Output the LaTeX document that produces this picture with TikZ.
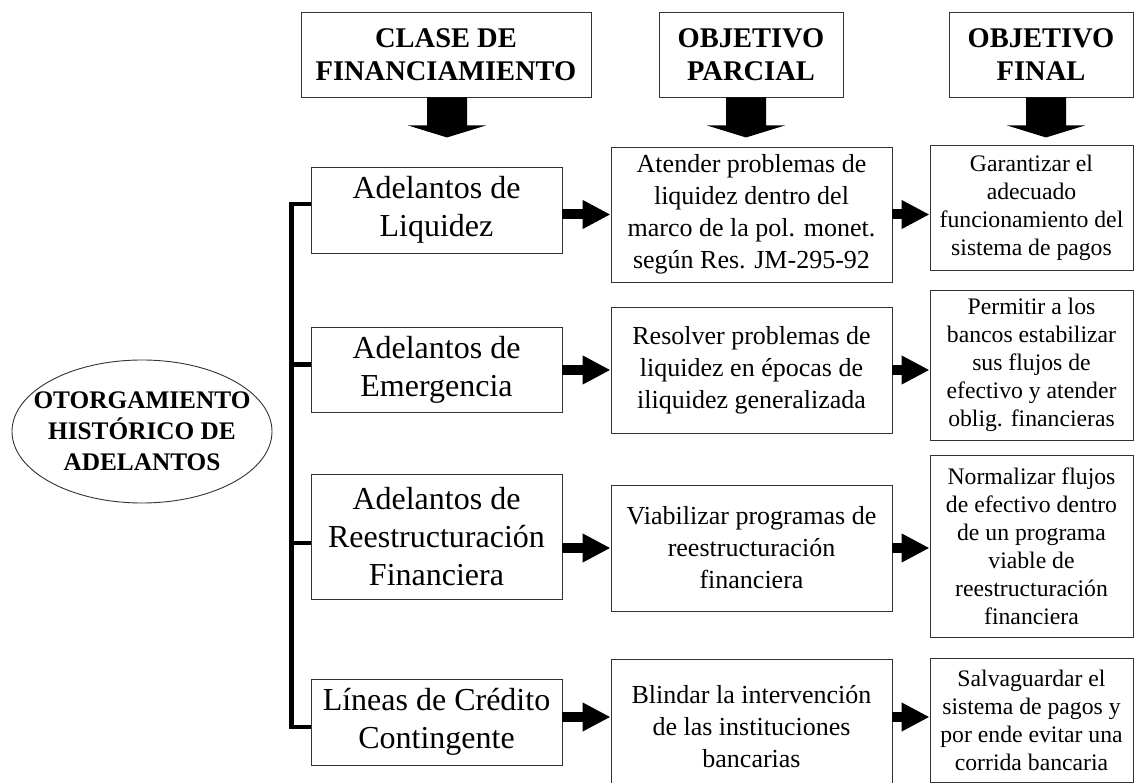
\documentclass[tikz,border=0pt]{standalone}
\usepackage{fontspec}
\setmainfont{Liberation Serif}
\usetikzlibrary{arrows.meta}
\tikzstyle{headbox} = [draw=black!80, line width=0.9pt, rectangle, inner sep=0pt,
    minimum height=85pt, align=center, font=\fontsize{28.5}{33}\selectfont\bfseries]
\tikzstyle{clasebox} = [draw=black!80, line width=0.9pt, rectangle, inner sep=0pt,
    minimum width=251pt, align=center, font=\fontsize{32}{38}\selectfont]
\tikzstyle{parcialbox} = [draw=black!80, line width=0.9pt, rectangle, inner sep=0pt,
    minimum width=281pt, align=center, font=\fontsize{26}{32}\selectfont]
\tikzstyle{finalbox} = [draw=black!80, line width=0.9pt, rectangle, inner sep=0pt,
    minimum width=203pt, align=center, font=\fontsize{23.7}{28}\selectfont]
\tikzstyle{origen} = [inner sep=0pt, align=center,
    font=\fontsize{25.3}{31}\selectfont\bfseries]
\tikzstyle{flecha} = [line width=10pt, -{Triangle[length=28pt,width=27pt]}]
\tikzstyle{corchete} = [line width=4.5pt]
% flecha gruesa bajo cada encabezado
\newcommand{\bajada}[2]{\fill ([xshift=#2pt]#1.south) ++(-20,0) -- ++(0,28) -- ++(-19,0)
    -- ++(39,12) -- ++(39,-12) -- ++(-19,0) -- ++(0,-28) -- cycle;}

\begin{document}
\begin{tikzpicture}[x=1pt,y=-1pt]
    \useasboundingbox (0,0) rectangle (1135,783);

    % encabezados
    \node [headbox, minimum width=290pt] (h1) at (446,54.5) {CLASE DE\\FINANCIAMIENTO};
    \node [headbox, minimum width=184pt] (h2) at (751,54.5) {OBJETIVO\\PARCIAL};
    \node [headbox, minimum width=184pt] (h3) at (1041,54.5) {OBJETIVO\\FINAL};
    \bajada{h1}{1}
    \bajada{h2}{-5}
    \bajada{h3}{5}

    \node [origen] (otorg) at (142,431.5) {OTORGAMIENTO\\HIST\'ORICO DE\\ADELANTOS};
    \draw [black!80, line width=0.9pt] (otorg.center) ellipse [x radius=130, y radius=71.5];

    % clase de financiamiento
    \node [clasebox, minimum height=86pt] (a1) at (436.5,210) {Adelantos de\\Liquidez};
    \node [clasebox, minimum height=85pt] (a2) at (436.5,369.5) {Adelantos de\\Emergencia};
    \node [clasebox, minimum height=125pt] (a3) at (436.5,536.5) {Adelantos de\\Reestructuraci\'on\\Financiera};
    \node [clasebox, minimum height=86pt] (a4) at (436.5,722) {L\'ineas de Cr\'edito\\Contingente};

    % objetivo parcial
    \node [parcialbox, minimum height=135pt] (b1) at (751.5,214.5) {Atender problemas de\\liquidez dentro del\\marco de la pol. monet.\\seg\'un Res. JM-295-92};
    \node [parcialbox, minimum height=126pt] (b2) at (751.5,370) {Resolver problemas de\\liquidez en \'epocas de\\iliquidez generalizada};
    \node [parcialbox, minimum height=126pt] (b3) at (751.5,548) {Viabilizar programas de\\reestructuraci\'on\\financiera};
    \node [parcialbox, minimum height=136pt] (b4) at (751.5,727) {Blindar la intervenci\'on\\de las instituciones\\bancarias};

    % objetivo final
    \node [finalbox, minimum height=125pt] (c1) at (1031.5,207.5) {Garantizar el\\adecuado\\funcionamiento del\\sistema de pagos};
    \node [finalbox, minimum height=150pt] (c2) at (1031.5,365) {Permitir a los\\bancos estabilizar\\sus flujos de\\efectivo y atender\\oblig. financieras};
    \node [finalbox, minimum height=182pt] (c3) at (1031.5,546) {Normalizar flujos\\de efectivo dentro\\de un programa\\viable de\\reestructuraci\'on\\financiera};
    \node [finalbox, minimum height=124pt] (c4) at (1031.5,720) {Salvaguardar el\\sistema de pagos y\\por ende evitar una\\corrida bancaria};

    % corchete
    \draw [corchete] ([yshift=6pt]a1.west) -- ++(-19,0) |- ([yshift=-5pt]a4.west);
    \draw [corchete] ([yshift=5pt]a2.west) -- ++(-19,0);
    \draw [corchete] ([yshift=-6.5pt]a3.west) -- ++(-19,0);

    % flechas
    \coordinate (r4) at ([yshift=10pt]b4.west);
    \draw [flecha] (a1.east |- b1.west) -- (b1.west);
    \draw [flecha] (a2.east |- b2.west) -- (b2.west);
    \draw [flecha] (a3.east |- b3.west) -- (b3.west);
    \draw [flecha] (r4 -| a4.east) -- (r4);
    \draw [flecha] (b1.east) -- (b1.east -| c1.west);
    \draw [flecha] (b2.east) -- (b2.east -| c2.west);
    \draw [flecha] (b3.east) -- (b3.east -| c3.west);
    \draw [flecha] (r4 -| b4.east) -- (r4 -| c4.west);
\end{tikzpicture}
\end{document}
